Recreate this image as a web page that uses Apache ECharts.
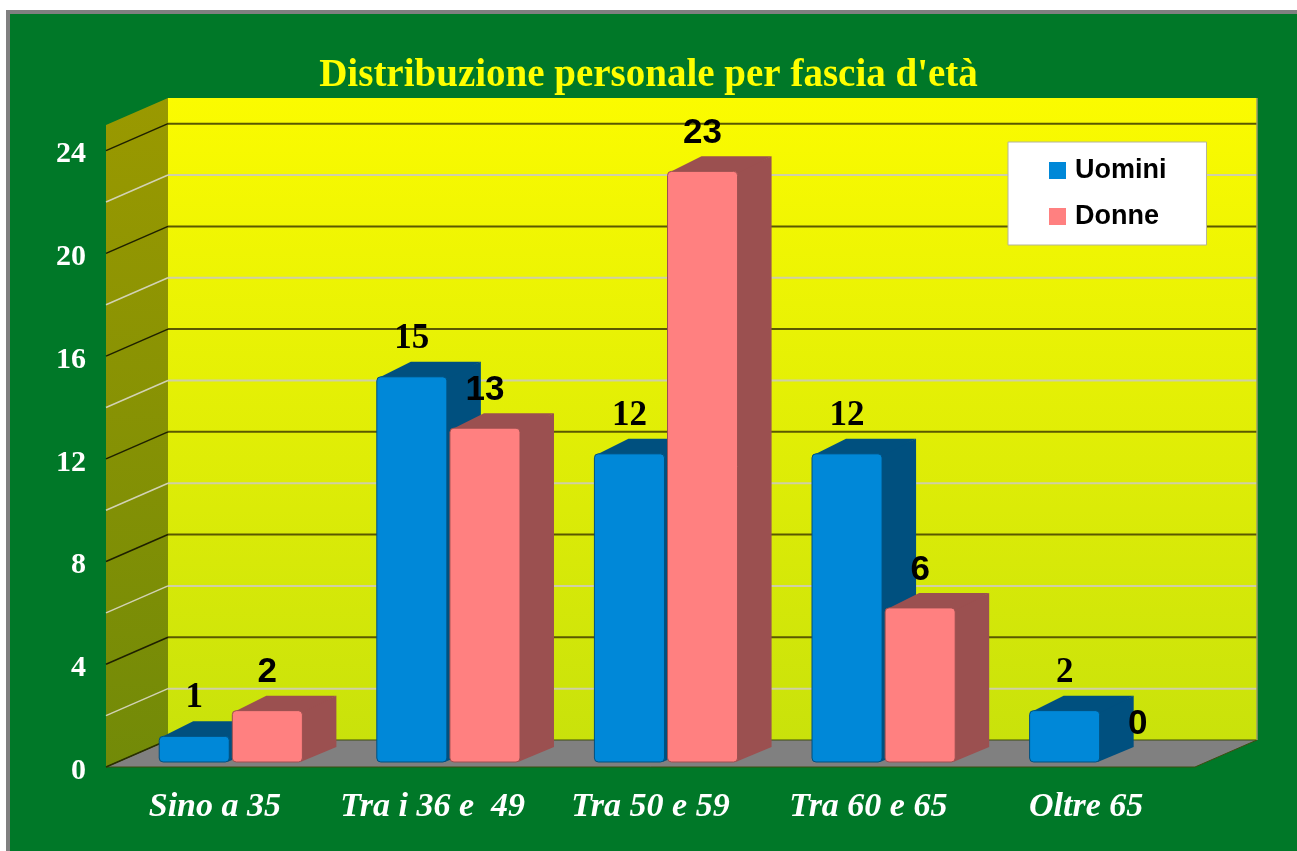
<!DOCTYPE html>
<html>
<head>
<meta charset="utf-8">
<title>Distribuzione personale per fascia d'età</title>
<script src="https://cdn.jsdelivr.net/npm/echarts@6/dist/echarts.min.js"></script>
<style>
  html, body { margin: 0; padding: 0; background: #fff; overflow: hidden; }
  #frame {
    position: absolute; left: 6px; top: 10px; width: 1300px; height: 860px;
    box-sizing: border-box; background: #007828; border: 4px solid #808080;
  }
  #chart { position: absolute; left: 0; top: 0; width: 1297px; height: 851px; }
</style>
</head>
<body>
<div id="frame"></div>
<div id="chart"></div>
<script>
const categories = ["Sino a 35", "Tra i 36 e  49", "Tra 50 e 59", "Tra 60 e 65", "Oltre 65"];
const uomini = [1, 15, 12, 12, 2];
const donne = [2, 13, 23, 6, 0];
const yLabels = [0, 4, 8, 12, 16, 20, 24];
const yMax = 25;
const gridStep = 2;

// how far the floor / side wall come toward the viewer, and bar depth
const WALL_DX = -62, WALL_DY = 27;
const BAR_DX = 34, BAR_DY = 15;

const SERIF = '"Liberation Serif", "Times New Roman", serif';
const SANS = '"Liberation Sans", Arial, sans-serif';

const chart = echarts.init(document.getElementById("chart"));

function renderWalls(params, api) {
  const cs = params.coordSys;
  const left = cs.x, right = cs.x + cs.width;
  const top = cs.y, bottom = cs.y + cs.height;
  const children = [];

  children.push({
    type: "rect",
    shape: { x: left, y: top, width: cs.width, height: cs.height },
    style: {
      fill: new echarts.graphic.LinearGradient(0, 0, 0, 1, [
        { offset: 0, color: "#fbfb00" },
        { offset: 1, color: "#c9e20b" },
      ]),
    },
  });
  children.push({
    type: "polygon",
    shape: {
      points: [
        [left, top], [left, bottom],
        [left + WALL_DX, bottom + WALL_DY], [left + WALL_DX, top + WALL_DY],
      ],
    },
    style: {
      fill: new echarts.graphic.LinearGradient(0, 0, 0, 1, [
        { offset: 0, color: "#9a9900" },
        { offset: 1, color: "#728a08" },
      ]),
    },
  });
  children.push({
    type: "polygon",
    shape: {
      points: [
        [left, bottom], [right, bottom],
        [right + WALL_DX, bottom + WALL_DY], [left + WALL_DX, bottom + WALL_DY],
      ],
    },
    style: { fill: "#808080", stroke: "#3d4d10", lineWidth: 1 },
  });

  for (let v = gridStep; v < yMax; v += gridStep) {
    const y = api.coord([0, v])[1];
    const major = yLabels.indexOf(v) >= 0;
    children.push({
      type: "line",
      shape: { x1: left, y1: y, x2: right, y2: y },
      style: { stroke: major ? "#5a5800" : "#cfcfa6", lineWidth: 2 },
    });
    children.push({
      type: "line",
      shape: { x1: left + WALL_DX, y1: y + WALL_DY, x2: left, y2: y },
      style: { stroke: major ? "#1e2000" : "#d2d2b4", lineWidth: 1.5 },
    });
  }
  // edges
  children.push({
    type: "line",
    shape: { x1: left + WALL_DX, y1: bottom + WALL_DY, x2: left, y2: bottom },
    style: { stroke: "#2a3000", lineWidth: 1.5 },
  });
  children.push({
    type: "line",
    shape: { x1: right, y1: top, x2: right, y2: bottom },
    style: { stroke: "#9c9c6a", lineWidth: 1.5 },
  });
  return { type: "group", children };
}

function barRenderer(side, front, dark, labelFont) {
  return function (params, api) {
    const cat = api.value(0);
    const val = api.value(1);
    const base = api.coord([cat, 0]);
    const top = api.coord([cat, val]);
    const band = api.size([1, 0])[0];
    const w = band * 0.322;
    const gap = band * 0.007;
    const x0 = side < 0 ? base[0] - gap - w : base[0] + gap;
    const x1 = x0 + w;
    const yb = base[1], yt = top[1];
    const children = [];
    if (val > 0) {
      children.push({
        type: "polygon",
        shape: {
          points: [
            [x1 - 2, yt], [x1 + BAR_DX, yt - BAR_DY],
            [x1 + BAR_DX, yb - BAR_DY], [x1 - 2, yb],
          ],
        },
        style: { fill: dark },
      });
      children.push({
        type: "polygon",
        shape: {
          points: [
            [x0, yt + 2], [x0 + BAR_DX, yt - BAR_DY],
            [x1 + BAR_DX, yt - BAR_DY], [x1, yt + 2],
          ],
        },
        style: { fill: dark },
      });
      children.push({
        type: "rect",
        shape: { x: x0, y: yt, width: w, height: yb - yt, r: 4 },
        style: { fill: front, stroke: dark, lineWidth: 1 },
      });
    }
    children.push({
      type: "text",
      x: (x0 + x1) / 2,
      y: yt - 38,
      style: {
        text: String(val),
        fill: "#000",
        font: "bold 35px " + labelFont,
        align: "center",
        verticalAlign: "middle",
      },
    });
    return { type: "group", children };
  };
}

const option = {
  animation: false,
  title: {
    text: "Distribuzione personale per fascia d'età",
    left: "center",
    top: 56,
    padding: 0,
    textStyle: { color: "#ffff00", fontFamily: SERIF, fontWeight: "bold", fontSize: 39 },
  },
  legend: {
    orient: "vertical",
    left: 1008,
    top: 142,
    padding: [15, 40, 15, 41],
    itemGap: 19,
    itemWidth: 17,
    itemHeight: 17,
    icon: "rect",
    backgroundColor: "#ffffff",
    borderColor: "#b4b49a",
    borderWidth: 1,
    borderRadius: 0,
    textStyle: {
      color: "#000",
      fontFamily: SANS,
      fontWeight: "bold",
      fontSize: 27,
      padding: [0, 0, 0, 4],
    },
    data: [
      { name: "Uomini", itemStyle: { color: "#0088d8" } },
      { name: "Donne", itemStyle: { color: "#ff8080" } },
    ],
  },
  grid: [
    // back wall
    { left: 168, right: 40, top: 98, bottom: 111, outerBoundsMode: "none" },
    // plane the bars stand on
    { left: 122, right: 87, top: 120, bottom: 89, outerBoundsMode: "none" },
    // front edge: axis labels (a few px low, as in the original)
    { left: 106, right: 102, top: 129, bottom: 80, outerBoundsMode: "none" },
  ],
  xAxis: [
    { gridIndex: 0, type: "category", data: categories, show: false },
    { gridIndex: 1, type: "category", data: categories, show: false },
    {
      gridIndex: 2,
      type: "category",
      data: categories,
      axisLine: { show: false },
      axisTick: { show: false },
      axisLabel: {
        interval: 0,
        margin: 19,
        color: "#fff",
        fontFamily: SERIF,
        fontStyle: "italic",
        fontWeight: "bold",
        fontSize: 34,
      },
    },
  ],
  yAxis: [
    { gridIndex: 0, type: "value", min: 0, max: yMax, show: false },
    { gridIndex: 1, type: "value", min: 0, max: yMax, show: false },
    {
      gridIndex: 2,
      type: "value",
      min: 0,
      max: yMax,
      interval: gridStep,
      axisLine: { show: false },
      axisTick: { show: false },
      splitLine: { show: false },
      axisLabel: {
        margin: 20,
        color: "#fff",
        fontFamily: SERIF,
        fontWeight: "bold",
        fontSize: 30,
        formatter: (v) => (yLabels.indexOf(v) >= 0 ? String(v) : ""),
      },
    },
  ],
  series: [
    {
      type: "custom",
      name: "walls",
      xAxisIndex: 0,
      yAxisIndex: 0,
      z: 1,
      silent: true,
      data: [[0, 0]],
      renderItem: renderWalls,
    },
    {
      type: "custom",
      name: "Uomini",
      xAxisIndex: 1,
      yAxisIndex: 1,
      z: 3,
      itemStyle: { color: "#0088d8" },
      data: uomini.map((v, i) => [i, v]),
      renderItem: barRenderer(-1, "#0088d8", "#00507f", SERIF),
    },
    {
      type: "custom",
      name: "Donne",
      xAxisIndex: 1,
      yAxisIndex: 1,
      z: 4,
      itemStyle: { color: "#ff8080" },
      data: donne.map((v, i) => [i, v]),
      renderItem: barRenderer(1, "#ff8080", "#9b5050", SANS),
    },
  ],
};

chart.setOption(option);
</script>
</body>
</html>
